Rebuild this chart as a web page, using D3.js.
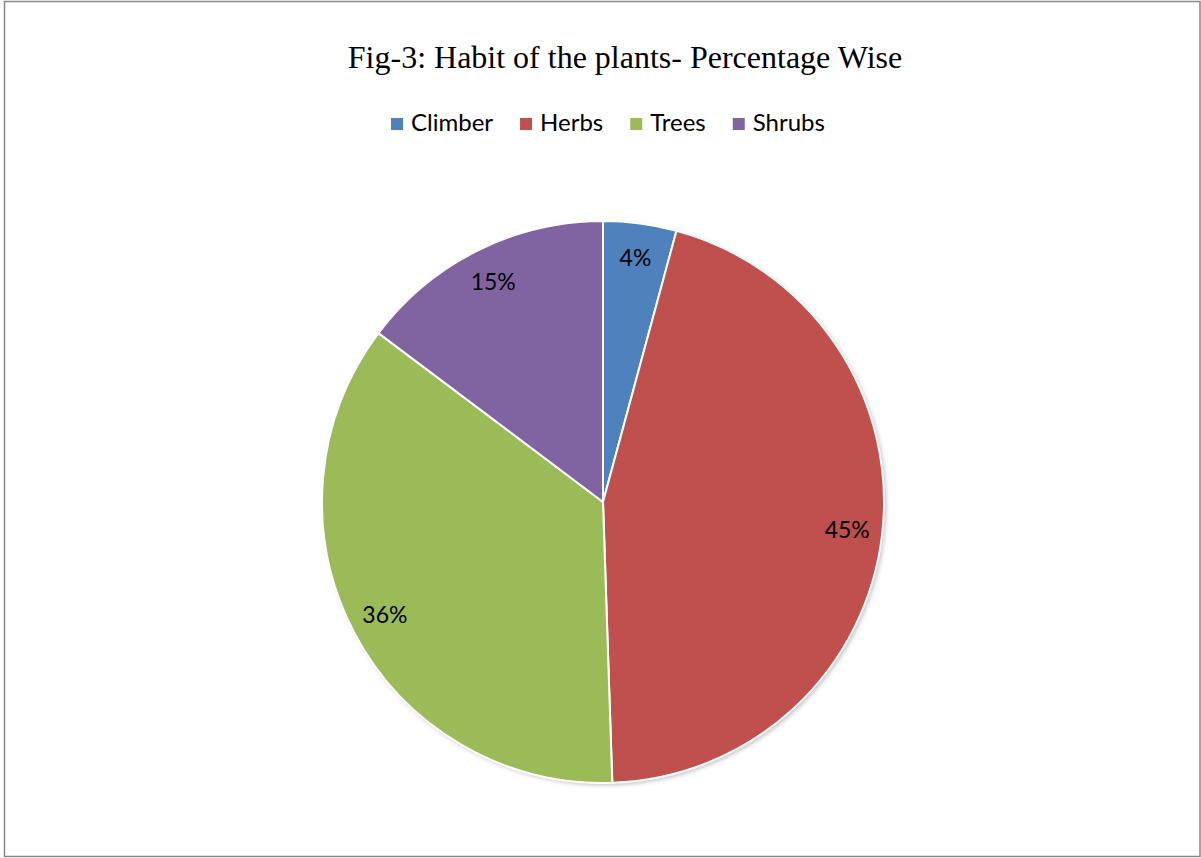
<!DOCTYPE html>
<html>
<head>
<meta charset="utf-8">
<script src="https://cdn.jsdelivr.net/npm/d3@7"></script>
<style>
  html, body { margin: 0; padding: 0; background: #fff; }
  svg { display: block; }
</style>
</head>
<body>
<svg id="chart" width="1201" height="858"></svg>
<script>
// Plant habit counts (share of species by growth habit)
const categories = ["Climber", "Herbs", "Trees", "Shrubs"];
const counts = [4, 43, 34, 14];
const colors = ["#4F81BD", "#C0504D", "#9BBB59", "#8064A2"];
const title = "Fig-3: Habit of the plants- Percentage Wise";

const svg = d3.select("#chart");
const W = 1201, H = 858;

// chart frame
svg.append("rect")
  .attr("x", 4.5).attr("y", 1.5)
  .attr("width", W - 5.5).attr("height", H - 3)
  .attr("fill", "#fff")
  .attr("stroke", "#878787")
  .attr("stroke-width", 1.5);

// title
svg.append("text")
  .attr("x", 625).attr("y", 68)
  .attr("text-anchor", "middle")
  .attr("font-family", "'Liberation Serif', 'Times New Roman', serif")
  .attr("font-size", 32)
  .attr("fill", "#000")
  .text(title);

// legend
const legendFont = "Lato, 'Open Sans', sans-serif";
const legend = svg.append("g").attr("transform", "translate(391,124)");
let lx = 0;
categories.forEach((c, i) => {
  const g = legend.append("g").attr("transform", `translate(${lx},0)`);
  g.append("rect").attr("x", 0).attr("y", -6).attr("width", 12).attr("height", 12).attr("fill", colors[i]);
  const t = g.append("text")
    .attr("x", 20).attr("y", 7)
    .attr("font-family", legendFont)
    .attr("font-size", 24)
    .attr("fill", "#000")
    .text(c);
  lx += 20 + t.node().getComputedTextLength() + 27;
});

// pie
const cx = 603, cy = 502, R = 281;
const total = d3.sum(counts);
const pie = d3.pie().sort(null).value(d => d)(counts);
const arc = d3.arc().innerRadius(0).outerRadius(R);
const labelArc = d3.arc().innerRadius(R * 0.875).outerRadius(R * 0.875);

const defs = svg.append("defs");
const f = defs.append("filter").attr("id", "shadow").attr("x", "-10%").attr("y", "-10%").attr("width", "120%").attr("height", "120%");
f.append("feDropShadow").attr("dx", 2).attr("dy", 2).attr("stdDeviation", 2).attr("flood-color", "#000").attr("flood-opacity", 0.25);

const pg = svg.append("g").attr("transform", `translate(${cx},${cy})`);
pg.append("circle").attr("r", R).attr("fill", "#fff").attr("filter", "url(#shadow)");
pg.selectAll("path.slice")
  .data(pie)
  .join("path")
  .attr("class", "slice")
  .attr("d", arc)
  .attr("fill", (d, i) => colors[i])
  .attr("stroke", "#fff")
  .attr("stroke-width", 2)
  .attr("stroke-linejoin", "round");

pg.selectAll("text.lbl")
  .data(pie)
  .join("text")
  .attr("class", "lbl")
  .attr("transform", d => `translate(${labelArc.centroid(d)})`)
  .attr("text-anchor", "middle")
  .attr("dy", "0.35em")
  .attr("font-family", legendFont)
  .attr("font-size", 23)
  .attr("fill", "#000")
  .text(d => Math.round(d.value / total * 100) + "%");
</script>
</body>
</html>
